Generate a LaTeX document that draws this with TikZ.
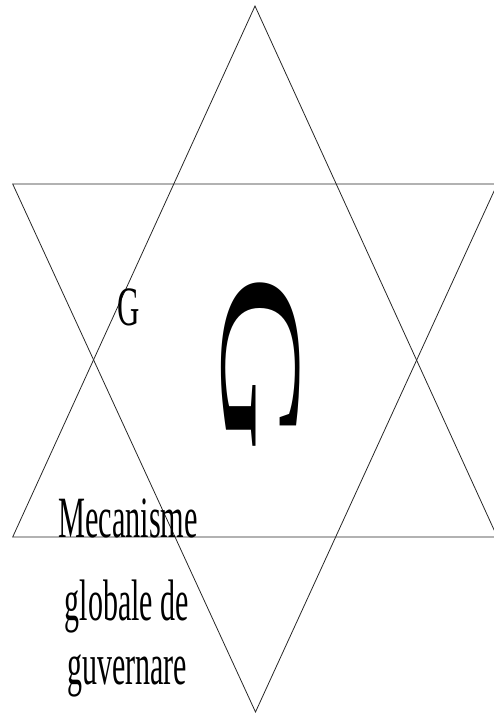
\documentclass[tikz,border=0pt]{standalone}
\usepackage{fontspec}
\setmainfont{Liberation Serif}
\usepackage{graphicx}

\begin{document}
\begin{tikzpicture}[
	x=1pt, y=-1pt,
	% Define the styles for the star and the labels
	edge/.style={draw=black!85, line width=0.8pt},
	label/.style={inner sep=0pt, anchor=base, font=\fontsize{30}{30}\selectfont}
	]
	
	\useasboundingbox (0,0) rectangle (494,715);
	
	% --- CORNERS ---
	% Format: \coordinate (internal_name) at (x,y);
	
	\coordinate (upTop)    at (255,6);
	\coordinate (upLeft)   at (12.7,537);
	\coordinate (upRight)  at (497.3,537);
	\coordinate (dnLeft)   at (12.7,184);
	\coordinate (dnRight)  at (497.3,184);
	\coordinate (dnBottom) at (255.5,712);
	
	% --- TRIANGLES ---
	
	\draw[edge] (upTop) -- (upLeft) -- (upRight) -- cycle; % Upward triangle
	\draw[edge] (dnLeft) -- (dnRight) -- (dnBottom) -- cycle; % Downward triangle
	
	% --- TEXTS ---
	
	\node[label] (smallG) at (128.5,325) {\scalebox{1.03}[1.85]{G}};
	\node[inner sep=0pt, rotate=-90] (bigG) at (260.5,363)
		{\scalebox{2.15}[1]{\fontsize{117}{117}\selectfont G}};
	
	\node[label] (line1) at (128,537) {\scalebox{1.01}[1.95]{Mecanisme}};
	\node[label] (line2) at (127,620) {\scalebox{1}[1.95]{globale de}};
	\node[label] (line3) at (127,684) {\scalebox{1}[1.95]{guvernare}};
	
\end{tikzpicture}
\end{document}
